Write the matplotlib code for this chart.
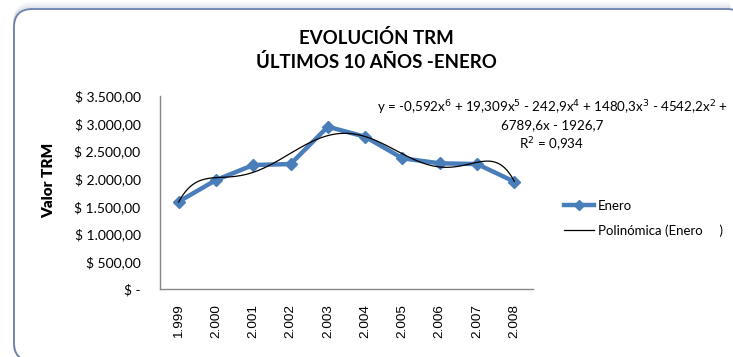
import numpy as np
import matplotlib
matplotlib.use("Agg")
import matplotlib.pyplot as plt
from matplotlib.patches import FancyBboxPatch
from matplotlib.lines import Line2D

# January TRM values (COP per USD), 1999-2008
years = ["1.999", "2.000", "2.001", "2.002", "2.003",
         "2.004", "2.005", "2.006", "2.007", "2.008"]
enero = [1583, 1976, 2248, 2266, 2943, 2761, 2370, 2279, 2266, 1946]

# 6th-degree polynomial trend coefficients (highest power first), x = 1..10
trend_coef = [-0.592, 19.309, -242.9, 1480.3, -4542.2, 6789.6, -1926.7]

y_ticks = [0, 500, 1000, 1500, 2000, 2500, 3000, 3500]
y_labels = ["$ -", "$ 500,00", "$ 1.000,00", "$ 1.500,00", "$ 2.000,00",
            "$ 2.500,00", "$ 3.000,00", "$ 3.500,00"]

FONT = "Lato"
BLUE = "#4a7ebb"

W, H = 733, 357
fig = plt.figure(figsize=(W / 100, H / 100), dpi=100)
fig.patch.set_facecolor("white")

# chart frame with soft shadow along the top
for i, a in enumerate([0.05, 0.08, 0.12, 0.18, 0.25]):
    off = (5 - i) * 1.3
    sh = FancyBboxPatch((14 / W, -4 / H), (745 - 14) / W, (352 + off) / H,
                        boxstyle="round,pad=0,rounding_size=0.025",
                        transform=fig.transFigure, facecolor="none",
                        edgecolor="#9aa6c0", linewidth=1.3, alpha=a,
                        mutation_aspect=W / H, zorder=-3)
    fig.patches.append(sh)
frame = FancyBboxPatch((14 / W, -4 / H), (745 - 14) / W, (352) / H,
                       boxstyle="round,pad=0,rounding_size=0.025",
                       transform=fig.transFigure, facecolor="white",
                       edgecolor="#6b7fab", linewidth=1.3,
                       mutation_aspect=W / H, zorder=-2)
fig.patches.append(frame)

ax = fig.add_axes([160 / W, (H - 289) / H, (533 - 160) / W, (289 - 96) / H])
ax.set_facecolor("none")
ax.set_zorder(2)

x = np.arange(len(years))
ax.plot(x, enero, color=BLUE, linewidth=3.2, marker="D", markersize=6.5,
        markerfacecolor=BLUE, markeredgecolor=BLUE, solid_joinstyle="round",
        zorder=2)

xt = np.linspace(1, len(years), 300)
ax.plot(xt - 1, np.polyval(trend_coef, xt), color="black", linewidth=0.9,
        zorder=3)

ax.set_xlim(-0.5, len(years) - 0.5)
ax.set_ylim(0, 3500)
ax.set_yticks(y_ticks)
ax.set_yticklabels(y_labels, fontsize=10, family=FONT)
ax.set_xticks(x)
ax.set_xticklabels(years, rotation=90, fontsize=9.7, family="Liberation Sans")
ax.tick_params(length=0)
ax.tick_params(axis="y", pad=14)
ax.tick_params(axis="x", pad=11)
for s in ["top", "right"]:
    ax.spines[s].set_visible(False)
for s in ["left", "bottom"]:
    ax.spines[s].set_color("#868686")
    ax.spines[s].set_linewidth(1.0)

ax.set_ylabel("Valor TRM", fontsize=11, fontweight="heavy", family=FONT)
ax.yaxis.set_label_coords(-105 / 373, 0.565)

fig.text(376 / W, 1 - 38 / H, "EVOLUCIÓN TRM", ha="center", va="center",
         fontsize=13.4, fontweight="bold", family=FONT)
fig.text(376 / W, 1 - 62 / H, "ÚLTIMOS 10 AÑOS -ENERO", ha="center",
         va="center", fontsize=13.4, fontweight="bold", family=FONT)

eq = ("y = -0,592x$^6$ + 19,309x$^5$ - 242,9x$^4$ + 1480,3x$^3$ - 4542,2x$^2$ +\n"
      "6789,6x - 1926,7\nR$^2$ = 0,934")
fig.text(552 / W, 1 - 126 / H, eq, ha="center", va="center", fontsize=9.6,
         family=FONT, linespacing=1.3)

# legend
handles = [Line2D([], [], color=BLUE, linewidth=3.2, marker="D", markersize=5),
           Line2D([], [], color="black", linewidth=0.9)]
leg = fig.legend(handles, ["Enero", "Polinómica (Enero     )"],
                 loc="upper left", bbox_to_anchor=(552 / W, 1 - 188 / H),
                 frameon=False, prop={"family": FONT, "size": 9.5},
                 handlelength=2.3, handletextpad=0.25, labelspacing=0.95)

fig.savefig("out.png", dpi=100, facecolor="white")
